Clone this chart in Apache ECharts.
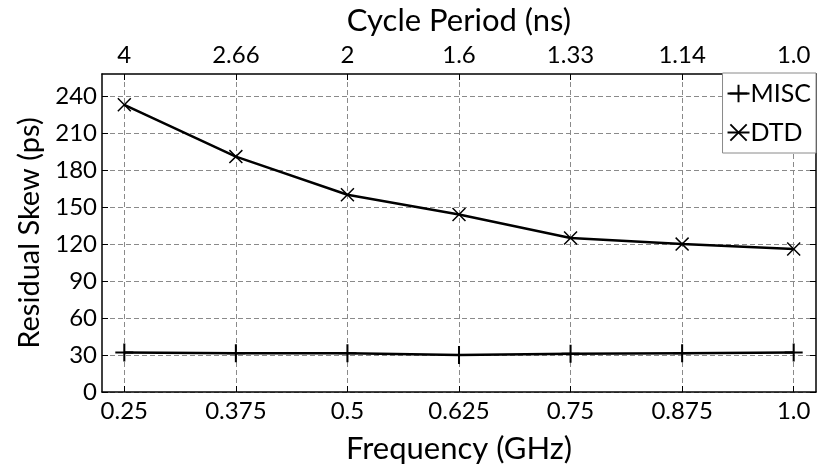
<!DOCTYPE html>
<html>
<head>
<meta charset="utf-8">
<script src="https://cdn.jsdelivr.net/npm/echarts@6/dist/echarts.min.js"></script>
<style>
html,body{margin:0;padding:0;background:#fff;}
#chart{width:817px;height:469px;}
</style>
</head>
<body>
<div id="chart"></div>
<script>
// Data
const frequencies = [0.25, 0.375, 0.5, 0.625, 0.75, 0.875, 1.0];
const frequencyLabels = ['0.25', '0.375', '0.5', '0.625', '0.75', '0.875', '1.0'];
const periodLabels = ['4', '2.66', '2', '1.6', '1.33', '1.14', '1.0'];
const miscValues = [32, 31.5, 31.5, 30, 31, 31.5, 32];
const dtdValues = [233, 191, 160, 144, 125, 120, 116];
const yTicks = [0, 30, 60, 90, 120, 150, 180, 210, 240];

const FONT = 'Lato';
const plusPath = 'path://M0,7.1 L16,7.1 L16,8.9 L0,8.9 Z M7.1,0 L8.9,0 L8.9,16 L7.1,16 Z';
const crossPath = 'path://M1.2,0 L8,6.8 L14.8,0 L16,1.2 L9.2,8 L16,14.8 L14.8,16 L8,9.2 L1.2,16 L0,14.8 L6.8,8 L0,1.2 Z';

const freqLabelMap = {};
frequencies.forEach((f, i) => { freqLabelMap[f.toFixed(3)] = frequencyLabels[i]; });
const periodLabelMap = {};
frequencies.forEach((f, i) => { periodLabelMap[f.toFixed(3)] = periodLabels[i]; });

const gridLine = { show: true, lineStyle: { color: '#8a8a8a', type: [5, 3], width: 1 } };

const chart = echarts.init(document.getElementById('chart'), null, { renderer: 'canvas' });
chart.setOption({
  animation: false,
  backgroundColor: '#fff',
  grid: { left: 102, right: 1, top: 71, bottom: 77, containLabel: false },
  legend: {
    orient: 'vertical',
    right: 1,
    top: 73,
    backgroundColor: '#fff',
    borderColor: '#8a8a8a',
    borderWidth: 1,
    borderRadius: 0,
    padding: [8, 5, 8, 4],
    itemGap: 14,
    itemWidth: 22,
    itemHeight: 22,
    textStyle: { fontFamily: FONT, fontSize: 25, color: '#000', padding: [0, 0, 0, -4] },
    data: ['MISC', 'DTD']
  },
  xAxis: [
    {
      type: 'value', position: 'bottom', min: 0.225, max: 1.025,
      axisLine: { show: true, onZero: false, lineStyle: { color: '#000', width: 1.5 } },
      axisTick: { show: true, inside: true, length: 6, customValues: frequencies, lineStyle: { color: '#000' } },
      axisLabel: { customValues: frequencies, margin: 7, fontFamily: FONT, fontSize: 24, color: '#000',
        formatter: v => freqLabelMap[v.toFixed(3)] || '' },
      splitLine: gridLine,
      name: 'Frequency (GHz)', nameLocation: 'middle', nameGap: 41,
      nameTextStyle: { fontFamily: FONT, fontSize: 31, color: '#000' }
    },
    {
      type: 'value', position: 'top', min: 0.225, max: 1.025,
      axisLine: { show: true, onZero: false, lineStyle: { color: '#000', width: 1.5 } },
      axisTick: { show: true, inside: true, length: 6, customValues: frequencies, lineStyle: { color: '#000' } },
      axisLabel: { customValues: frequencies, margin: 7, fontFamily: FONT, fontSize: 24, color: '#000',
        formatter: v => periodLabelMap[v.toFixed(3)] || '' },
      splitLine: { show: false },
      name: 'Cycle Period (ns)', nameLocation: 'middle', nameGap: 38,
      nameTextStyle: { fontFamily: FONT, fontSize: 31, color: '#000' }
    }
  ],
  yAxis: [
    {
      type: 'value', position: 'left', min: 0, max: 258, interval: 30,
      axisLine: { show: true, onZero: false, lineStyle: { color: '#000', width: 1.5 } },
      axisTick: { show: true, inside: true, length: 6, customValues: yTicks, lineStyle: { color: '#000' } },
      axisLabel: { customValues: yTicks, margin: 5, fontFamily: FONT, fontSize: 24, color: '#000' },
      splitLine: gridLine,
      name: 'Residual Skew (ps)', nameLocation: 'middle', nameGap: 58,
      nameTextStyle: { fontFamily: FONT, fontSize: 29, color: '#000' }
    },
    {
      type: 'value', position: 'right', min: 0, max: 258, interval: 30,
      axisLine: { show: true, onZero: false, lineStyle: { color: '#000', width: 1.5 } },
      axisTick: { show: true, inside: true, length: 6, customValues: yTicks, lineStyle: { color: '#000' } },
      axisLabel: { show: false },
      splitLine: { show: false }
    }
  ],
  series: [
    {
      name: 'MISC', type: 'line', xAxisIndex: 0, yAxisIndex: 0,
      data: frequencies.map((f, i) => [f, miscValues[i]]),
      symbol: plusPath, symbolSize: 18, showAllSymbol: true,
      lineStyle: { color: '#000', width: 2.5 },
      itemStyle: { color: '#000' }
    },
    {
      name: 'DTD', type: 'line', xAxisIndex: 0, yAxisIndex: 0,
      data: frequencies.map((f, i) => [f, dtdValues[i]]),
      symbol: crossPath, symbolSize: 14, showAllSymbol: true,
      lineStyle: { color: '#000', width: 2.5 },
      itemStyle: { color: '#000' }
    }
  ]
});
</script>
</body>
</html>
